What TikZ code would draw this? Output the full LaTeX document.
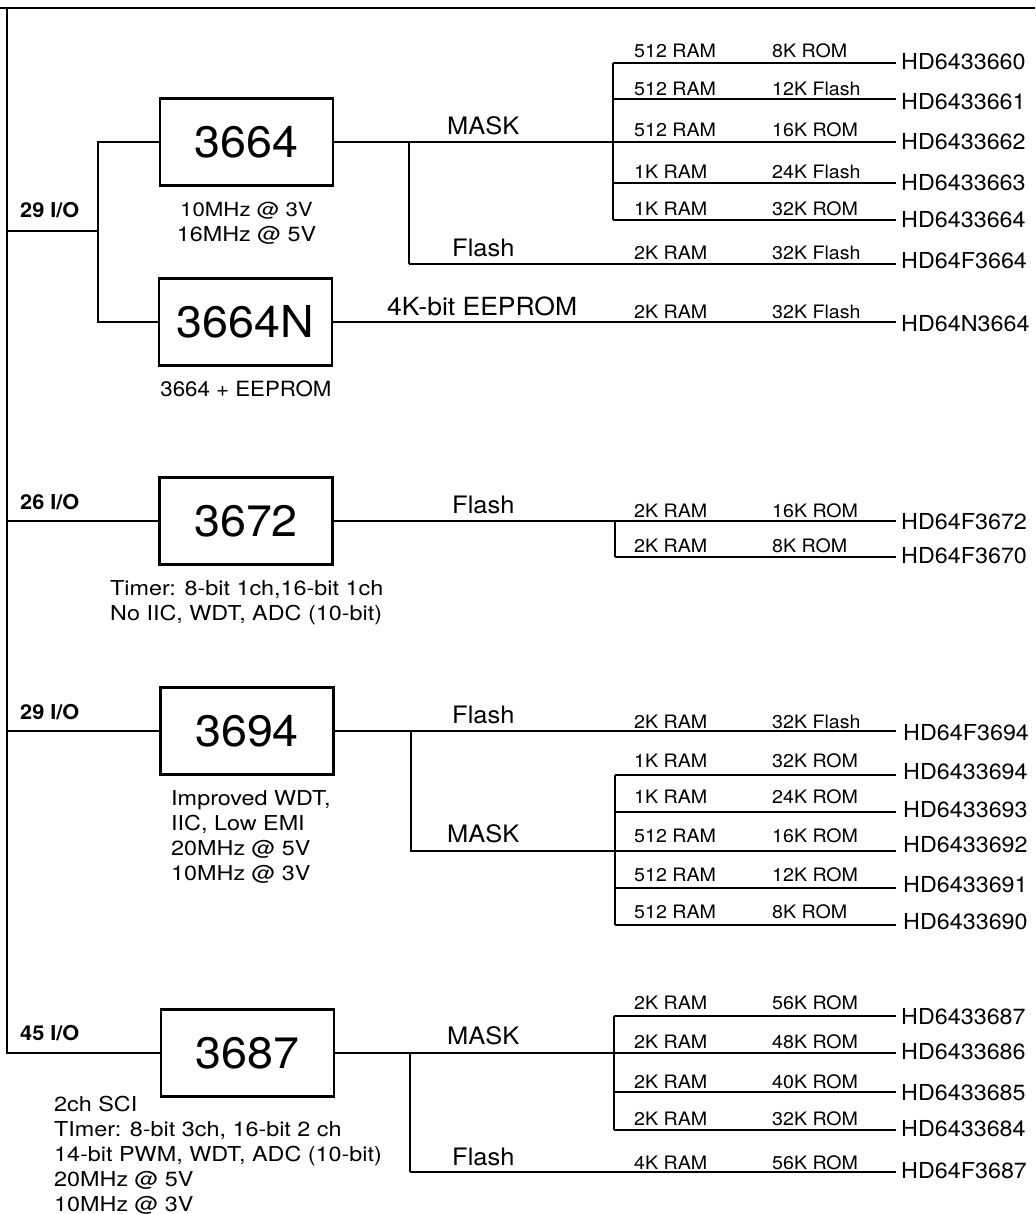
\documentclass[tikz,border=0pt]{standalone}
\usepackage{fontspec}
\setmainfont{TeX Gyre Heros}[FakeStretch=1.06]
\newfontfamily\notefont{TeX Gyre Heros}[FakeStretch=1.14]
\begin{document}
\begin{tikzpicture}[x=1pt,y=-1pt,
  chip/.style={draw,line width=2.4pt,minimum width=173pt,minimum height=87pt,inner sep=0pt,font=\fontsize{44}{50}\selectfont},
  wire/.style={line width=2pt},
  io/.style={anchor=base west,inner sep=0pt,font=\bfseries\fontsize{20.5}{22}\selectfont},
  kind/.style={anchor=base west,inner sep=0pt,font=\fontsize{24}{28}\selectfont},
  mem/.style={anchor=base west,inner sep=0pt,font=\fontsize{18.5}{22}\selectfont},
  part/.style={anchor=base west,inner sep=0pt,font=\fontsize{22}{26}\selectfont},
  note/.style={inner sep=0pt,font=\notefont\fontsize{20.5}{25}\selectfont},
  plain note/.style={inner sep=0pt,font=\fontsize{21}{25}\selectfont},
]
\useasboundingbox (0,0) rectangle (1035,1214);
\fill[white] (0,0) rectangle (1035,1214);

% frame line
\draw[line width=2.5pt] (0,8) -- (1035,8);

% chips
\node[chip] (c3664)  at (246.5,142) {3664};
\node[chip] (c3664n) at (245.5,322) {3664N};
\node[chip] (c3672)  at (246,521) {3672};
\node[chip] (c3694)  at (247,731) {3694};
\node[chip] (c3687)  at (247.5,1053) {3687};

% spine
\draw[wire] (7,8) -- (7,1053) -- (c3687.west);

% group 3664
\coordinate (s1) at (7,231);
\coordinate (k1) at (98,231);
\draw[wire] (s1) -- (k1);
\draw[wire] (c3664.west) -| (k1) |- (c3664n.west);
\draw[wire] (c3664.east) -- (613,142);
\draw[wire] (409,142) -- (409,264);
\draw[wire] (613,63) -- (613,220);
\node[io] (io1) at (20,218) {29 I/O};
\node[kind] (m1) at (447,135) {MASK};
\node[kind] (f1) at (452,257) {Flash};
\node[kind,font=\fontsize{25}{28}\selectfont] (e1) at (387,316) {4K-bit EEPROM};
\node[note,anchor=north,align=center] (n3664) at (246.5,202) {\fontsize{19.5}{24}\selectfont 10MHz @ 3V\\16MHz @ 5V};
\node[plain note,anchor=north] (n3664n) at (246,381) {3664 + EEPROM};

% group 3672
\draw[wire] (7,521) -- (c3672.west);
\draw[wire] (615,521) -- (615,557);
\node[io] (io2) at (20,509) {26 I/O};
\node[kind] (f2) at (452,513) {Flash};
\node[note,anchor=north west,align=left] (n3672) at (110,580) {Timer: 8-bit 1ch,16-bit 1ch\\No IIC, WDT, ADC (10-bit)};

% group 3694
\draw[wire] (7,731) -- (c3694.west);
\draw[wire] (411,731) -- (411,851) -- (615,851);
\draw[wire] (615,775) -- (615,925);
\node[io] (io3) at (20,719) {29 I/O};
\node[kind] (f3) at (452,723) {Flash};
\node[kind] (m3) at (447,842) {MASK};
\node[note,anchor=north west,align=left] (n3694) at (171,790) {Improved WDT,\\IIC, Low EMI\\20MHz @ 5V\\10MHz @ 3V};

% group 3687
\draw[wire] (c3687.east) -- (614,1053);
\draw[wire] (614,1016) -- (614,1130);
\draw[wire] (410,1053) -- (410,1172);
\node[io] (io4) at (20,1040) {45 I/O};
\node[kind] (m4) at (447,1044) {MASK};
\node[kind] (f4) at (452,1165) {Flash};
\node[note,anchor=north west,align=left] (n3687) at (54,1096) {2ch SCI\\TImer: 8-bit 3ch, 16-bit 2 ch\\14-bit PWM, WDT, ADC (10-bit)\\20MHz @ 5V\\10MHz @ 3V};

% part rows: name / start x / line y / label baseline / part baseline / part x / RAM / ROM / part
\foreach \n/\bx/\y/\b/\h/\hx/\ra/\ro/\pn in {
  p1/613/63/58/70/901/512 RAM/8K ROM/HD6433660,
  p2/613/99/96/110/901/512 RAM/12K Flash/HD6433661,
  p3/613/142/137/150/901/512 RAM/16K ROM/HD6433662,
  p4/613/183/179/191/901/1K RAM/24K Flash/HD6433663,
  p5/613/220/216/228/901/1K RAM/32K ROM/HD6433664,
  p6/409/264/260/269/901/2K RAM/32K Flash/HD64F3664,
  p7/333/322/318/331/901/2K RAM/32K Flash/HD64N3664,
  p8/333/521/517/529/901/2K RAM/16K ROM/HD64F3672,
  p9/615/557/552/563/901/2K RAM/8K ROM/HD64F3670,
  p10/334/731/728/740/903/2K RAM/32K Flash/HD64F3694,
  p11/615/775/767/779/903/1K RAM/32K ROM/HD6433694,
  p12/615/812/803/817/903/1K RAM/24K ROM/HD6433693,
  p13/615/851/842/852/903/512 RAM/16K ROM/HD6433692,
  p14/615/888/881/892/903/512 RAM/12K ROM/HD6433691,
  p15/615/925/918/929/903/512 RAM/8K ROM/HD6433690,
  p16/614/1016/1009/1024/901/2K RAM/56K ROM/HD6433687,
  p17/614/1053/1048/1059/901/2K RAM/48K ROM/HD6433686,
  p18/614/1092/1088/1100/901/2K RAM/40K ROM/HD6433685,
  p19/614/1130/1125/1136/901/2K RAM/32K ROM/HD6433684,
  p20/410/1172/1169/1178/901/4K RAM/56K ROM/HD64F3687}
{
  \node[part] (\n) at (\hx,\h) {\pn};
  \node[mem] (\n ram) at (634,\b) {\ra};
  \node[mem] (\n rom) at (772,\b) {\ro};
  \coordinate (\n s) at (\bx,\y);
  \coordinate (\n e) at (896,\y);
  \draw[wire] (\n s) -- (\n e);
}
\end{tikzpicture}
\end{document}
